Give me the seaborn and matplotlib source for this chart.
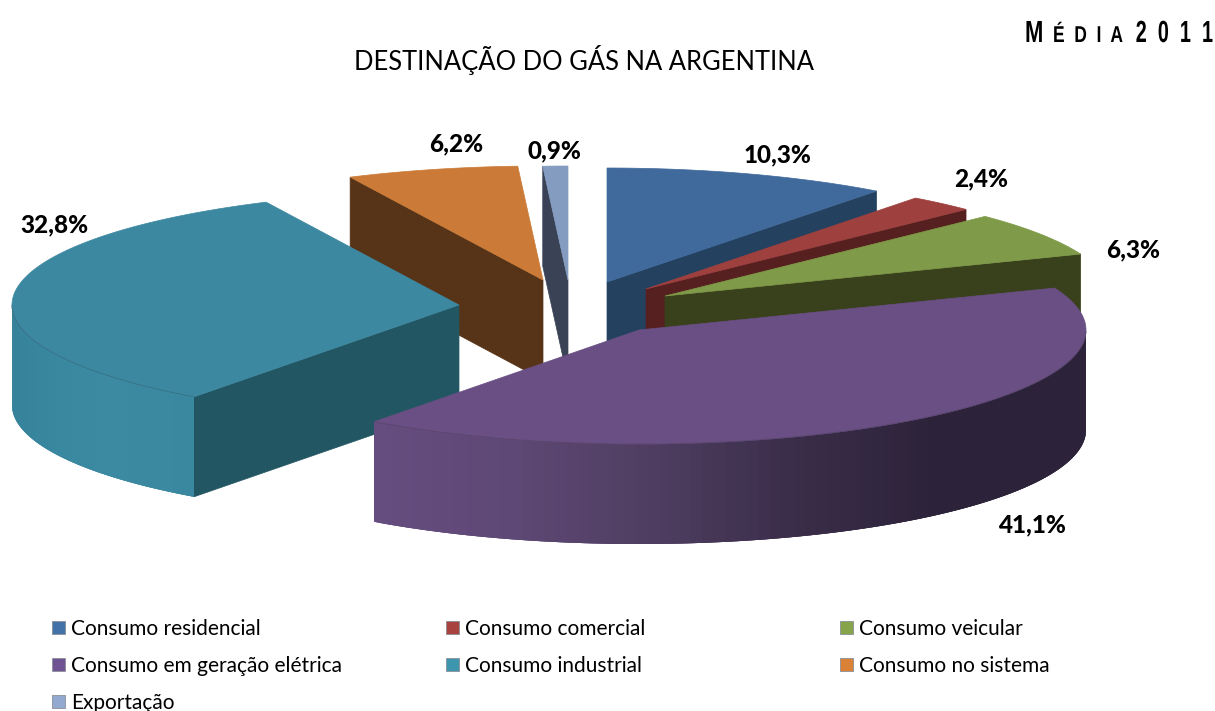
import numpy as np
import matplotlib
matplotlib.use('Agg')
import matplotlib.pyplot as plt
from matplotlib.patches import Polygon, Patch
from matplotlib.patheffects import AbstractPathEffect
from matplotlib.transforms import Affine2D
import seaborn as sns

categorias = ['Consumo residencial', 'Consumo comercial', 'Consumo veicular',
              'Consumo em geração elétrica', 'Consumo industrial',
              'Consumo no sistema', 'Exportação']
valores = [10.3, 2.4, 6.3, 41.1, 32.8, 6.2, 0.9]
rotulos = ['10,3%', '2,4%', '6,3%', '41,1%', '32,8%', '6,2%', '0,9%']

cores_topo = ['#406a9b', '#9e403e', '#7f9a48', '#694f83', '#3d88a1', '#cb7a37', '#859cc1']
cores_corte = ['#254160', '#562020', '#39401c', '#2c2239', '#235663', '#573317', '#3a4356']
cores_legenda = ['#4272a8', '#a8423f', '#86a44a', '#6f5392', '#3d96ae', '#da8137', '#93a9cf']

# centro de cada fatia na figura (pixels) e posicao dos rotulos
centros = [(607, 282), (646, 289), (665, 296), (639, 330), (459, 305), (543, 280), (568, 280)]
pos_rotulos = [(778, 154), (981, 178), (1133, 249), (1032, 524), (54, 224), (456, 143), (554, 150)]
ordem = [0, 1, 2, 6, 5, 4, 3]  # de tras para frente

RX, RY, ALTURA = 447, 114, 100

sns.set_theme(style='white')
plt.rcParams['font.family'] = ['Lato', 'DejaVu Sans']

fig = plt.figure(figsize=(12.15, 7.11), dpi=100)
ax = fig.add_axes([0, 0, 1, 1])
ax.set_xlim(0, 1215)
ax.set_ylim(711, 0)
ax.axis('off')


class Estreita(AbstractPathEffect):
    # aperta o texto na horizontal, a fonte original era Arial Narrow
    def __init__(self, x0, fator):
        super().__init__()
        self.x0, self.fator = x0, fator

    def draw_path(self, renderer, gc, tpath, affine, rgbFace=None):
        aperto = Affine2D().translate(-self.x0, 0).scale(self.fator, 1).translate(self.x0, 0)
        renderer.draw_path(gc, tpath, affine + aperto, rgbFace)


def ponto(c, ang):
    return c[0] + RX * np.cos(ang), c[1] - RY * np.sin(ang)


def parede(c, a0, cor, z):
    p = ponto(c, a0)
    ax.add_patch(Polygon([p, c, (c[0], c[1] + ALTURA), (p[0], p[1] + ALTURA)],
                         fc=cor, ec=cor, lw=0.5, zorder=z))


fim = np.cumsum(valores)
ini = fim - np.array(valores)
for z, i in enumerate(ordem):
    a0 = np.radians(90 - ini[i] * 3.6)
    a1 = np.radians(90 - fim[i] * 3.6)
    c = centros[i]
    base = z * 10

    # faces de corte visiveis
    if np.cos(a1) > 1e-6:
        parede(c, a1, cores_corte[i], base)
    if np.cos(a0) < -1e-6:
        parede(c, a0, cores_corte[i], base)

    # parede externa com degrade
    todos = np.linspace(a0, a1, 400)
    angs = todos[np.sin(todos) < 0]
    if len(angs) > 1:
        if i == 3:
            pal = sns.blend_palette(['#2c2239', '#2c2239', '#3a2d49', '#4e3d60', '#5e4875', '#664d80'], 64)
        else:
            pal = sns.blend_palette(['#35829a', '#3a88a0', '#3c8aa2', '#3b89a1', '#3a87a0'], 64)
        xs = c[0] + RX * np.cos(angs)
        # percorre da esquerda para a direita e sobrepoe as tiras para nao deixar emendas
        if xs[0] > xs[-1]:
            angs, xs = angs[::-1], xs[::-1]
        for k in range(len(angs) - 1):
            t = (xs[k] - xs.min()) / (xs.max() - xs.min())
            cor = pal[int((1 - t) * 63)] if i == 3 else pal[int(t * 63)]
            p1, p2 = ponto(c, angs[k]), ponto(c, angs[min(k + 3, len(angs) - 1)])
            ax.add_patch(Polygon([p1, p2, (p2[0], p2[1] + ALTURA), (p1[0], p1[1] + ALTURA)],
                                 fc=cor, ec='none', zorder=base + 1))

    # topo da fatia
    arco = np.linspace(a0, a1, 120)
    pts = [c] + [ponto(c, a) for a in arco]
    ax.add_patch(Polygon(pts, closed=True, fc=cores_topo[i], ec=cores_topo[i], lw=0.5, zorder=base + 2))
    if i in (3, 4):
        borda = np.array([ponto(c, a) for a in arco if np.sin(a) < 0])
        ax.plot(borda[:, 0], borda[:, 1], color=sns.dark_palette(cores_topo[i], 5)[3], lw=0.6, zorder=base + 3)

for rot, (x, y) in zip(rotulos, pos_rotulos):
    ax.text(x, y + 1, rot, ha='center', va='center', fontsize=17.5, fontweight='black', color='black', zorder=200)

ax.text(584, 60, 'DESTINAÇÃO DO GÁS NA ARGENTINA', ha='center', va='center',
        fontsize=18.4, color='black')

narrow = ['Liberation Sans', 'DejaVu Sans']
for txt, x, tam, ha, fator in [('M', 1025, 22, 'left', 0.72), ('É  D  I  A', 1053, 16.5, 'left', 0.76),
                               ('2  0  1  1', 1213, 22, 'right', 0.65)]:
    ax.text(x, 42, txt, ha=ha, va='baseline', fontsize=tam, fontweight='bold', color='black',
            family=narrow, path_effects=[Estreita(x, fator)])

# legenda em tres colunas, lendo por linhas
colunas = [([0, 3, 6], 52), ([1, 4], 446), ([2, 5], 840)]
for n, (idx, x) in enumerate(colunas):
    alcas = [Patch(fc=cores_legenda[j], ec='#8a8f96', lw=0.6, label=categorias[j]) for j in idx]
    leg = ax.legend(handles=alcas, loc='upper left', bbox_to_anchor=(x, 619), bbox_transform=ax.transData,
                    frameon=False, borderpad=0, borderaxespad=0, handlelength=0.6, handleheight=0.6,
                    handletextpad=0.3, labelspacing=0.82, fontsize=15, labelcolor='black')
    if n < len(colunas) - 1:
        ax.add_artist(leg)

fig.savefig('out.png', dpi=100, facecolor='white')
